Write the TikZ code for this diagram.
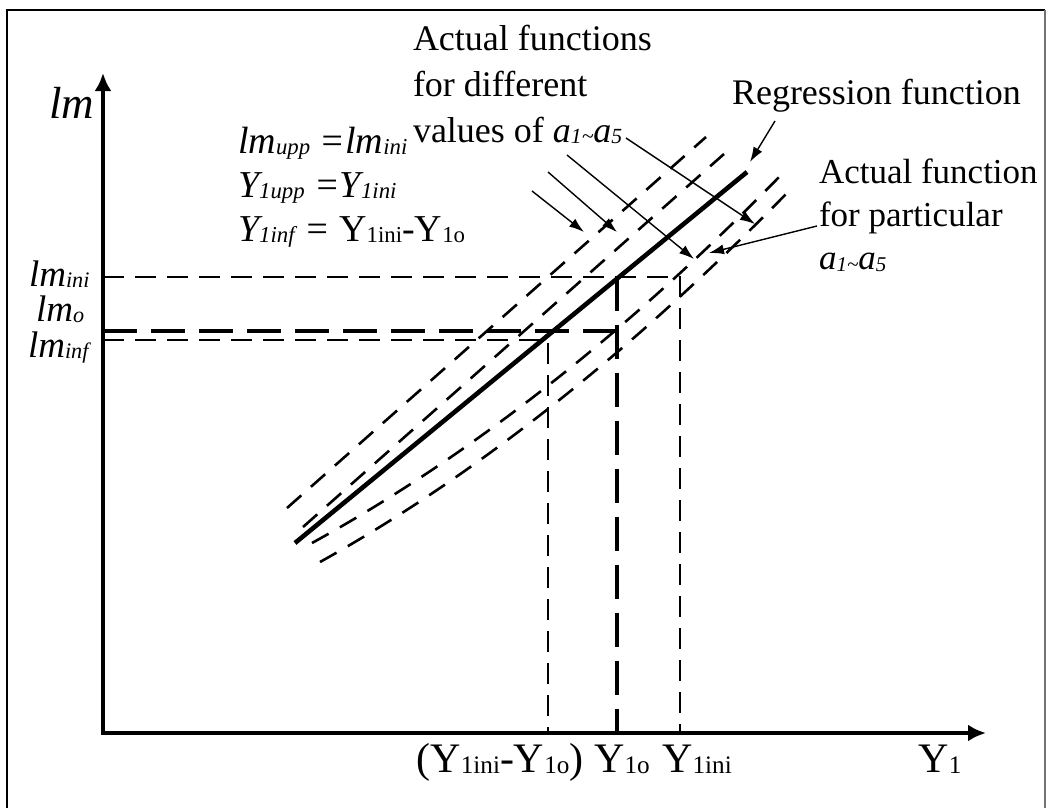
\documentclass[tikz,border=0pt]{standalone}
\usepackage{fontspec}
\setmainfont{Liberation Serif}
\usetikzlibrary{arrows.meta}
\newcommand{\lowix}[1]{\raisebox{-0.04em}{\scalebox{0.6}{#1}}}

\begin{document}
\begin{tikzpicture}[
  x=1pt, y=-1pt,
  every node/.style={inner sep=0pt, outer sep=0pt},
  frm/.style={draw=black, line width=1.8pt},
  axis/.style={line width=4pt, {Latex[length=18pt,width=17pt]}-{Latex[length=18pt,width=17pt]}},
  reg/.style={line width=4.6pt},
  fan/.style={line width=2.6pt, dash pattern=on 19pt off 13pt},
  guide/.style={line width=2.6pt, dash pattern=on 21pt off 11pt},
  boldguide/.style={line width=4.6pt, dash pattern=on 34pt off 14pt},
  ptr/.style={line width=1.4pt, -{Latex[length=15pt,width=10pt]}},
  txt/.style={font=\fontsize{36}{46}\selectfont, align=left},
  eq/.style={font=\fontsize{38}{44}\selectfont\itshape, align=left},
  side/.style={font=\fontsize{37}{40}\selectfont\itshape},
  tick/.style={font=\fontsize{42}{46}\selectfont},
]
\useasboundingbox (0,0) rectangle (1047,808);

% ---- frame and axes ----
\draw[frm] (7,808) -- (7,10) -- (1045,10);
\draw[frm, draw=black!55, line width=1.2pt] (1045,10) -- (1045,808);
\coordinate (O) at (103,733);
\coordinate (ytop) at (103,73);
\coordinate (xend) at (986,733);
\draw[axis] (ytop) -- (O) -- (xend);

\node[eq, font=\fontsize{45}{48}\selectfont\itshape, anchor=base east] (lm) at (94,118) {lm};
\node[side, anchor=base west] (lmini) at (29,286) {lm\lowix{ini}};
\node[side, anchor=base west] (lmo) at (36,321) {lm\lowix{o}};
\node[side, anchor=base west] (lminf) at (28,357) {lm\lowix{inf}};

\node[tick, anchor=base] (ydiff) at (500,772) {(Y\lowix{1ini}-Y\lowix{1o})};
\node[tick, anchor=base] (yo) at (622,772) {Y\lowix{1o}};
\node[tick, anchor=base] (yini) at (697,772) {Y\lowix{1ini}};
\node[tick, anchor=base] (yone) at (940,772) {Y\lowix{1}};

% ---- regression line and the fan of actual functions ----
\coordinate (r0) at (295,543);  \coordinate (r1) at (747,172);
\coordinate (u0) at (287,508);  \coordinate (u1) at (706,137);
\coordinate (v0) at (303,527);  \coordinate (v1) at (724,154);
\coordinate (w0) at (312,543);  \coordinate (w1) at (783,173);
\coordinate (z0) at (320,562);  \coordinate (z1) at (789,191);

\draw[reg] (r0) -- (r1);
\draw[fan] (u0) -- (u1);
\draw[fan] (v0) -- (v1);
\draw[fan] (w0) .. controls (470.7,455.7) and (627.7,332.3) .. (w1);
\draw[fan] (z0) .. controls (474.3,476.3) and (630.7,352.7) .. (z1);

% ---- guide lines ----
\coordinate (lmiL) at (103,277);  \coordinate (lmiR) at (680,277);
\coordinate (lmoL) at (103,331);  \coordinate (lmoR) at (617,331);
\coordinate (lmfL) at (103,340);  \coordinate (lmfR) at (548,340);
\coordinate (xA) at (548,733);
\coordinate (xBt) at (617,277);   \coordinate (xB) at (617,733);
\coordinate (xC) at (680,733);

\draw[guide] (lmiL) -- (lmiR) -- (xC);
\draw[guide] (lmfL) -- (lmfR) -- (xA);
\draw[boldguide] (lmoL) -- (lmoR);
\draw[boldguide] (xBt) -- (xB);

% ---- labels ----
\node[txt, anchor=north west] (fanlbl) at (413,25)
  {Actual functions\\for different\\values of {\itshape a\lowix{1\textasciitilde}a\lowix{5}}};
\node[txt, anchor=base west] (reglbl) at (732,104) {Regression function};
\node[txt, font=\fontsize{35}{43}\selectfont, anchor=north west] (partlbl) at (819,159)
  {Actual function\\for particular\\{\itshape a\lowix{1\textasciitilde}a\lowix{5}}};
\node[eq, anchor=north west] (cond) at (238,127)
  {lm\lowix{upp} =lm\lowix{ini}\\
   Y\lowix{1upp} =Y\lowix{1ini}\\
   Y\lowix{1inf} = {\upshape Y\lowix{1ini}-Y\lowix{1o}}};

% ---- pointers ----
\coordinate (f1s) at (532,191);  \coordinate (f1t) at (584,232);
\coordinate (f2s) at (548,172);  \coordinate (f2t) at (617,232);
\coordinate (f3s) at (567,155);  \coordinate (f3t) at (694,259);
\coordinate (f4s) at (626,138);  \coordinate (f4t) at (755,224);
\coordinate (rgs) at (775,121);  \coordinate (rgt) at (750,162);
\coordinate (pts) at (817,226);  \coordinate (ptt) at (709,253);

\foreach \a/\b in {f1s/f1t, f2s/f2t, f3s/f3t, f4s/f4t, rgs/rgt, pts/ptt}
  \draw[ptr] (\a) -- (\b);

\end{tikzpicture}
\end{document}
